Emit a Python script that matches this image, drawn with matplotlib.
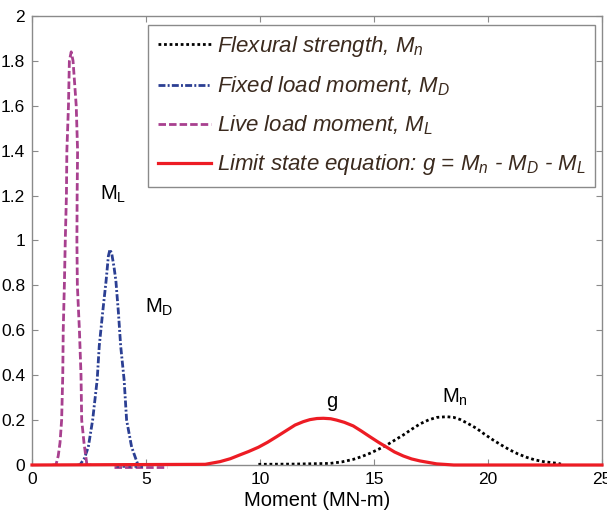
import matplotlib
matplotlib.use('Agg')
import matplotlib.pyplot as plt
from matplotlib.ticker import FormatStrFormatter

plt.rcParams['font.family'] = ['Liberation Sans', 'DejaVu Sans']
plt.rcParams['mathtext.fontset'] = 'custom'
plt.rcParams['mathtext.rm'] = 'Liberation Sans'
plt.rcParams['mathtext.it'] = 'Liberation Sans:italic'

# values (moment in MN-m, density)
mn_x = [9.93, 11.5, 13.07, 13.6, 14.09, 14.45, 14.82, 15.2, 15.56, 15.9,
        16.29, 16.65, 17.02, 17.4, 17.75, 18.19, 18.5, 18.77, 19.1, 19.5,
        19.85, 20.23, 20.6, 20.96, 21.3, 21.7, 22.05, 22.43, 23.08, 23.2]
mn_y = [0.003, 0.004, 0.007, 0.014, 0.025, 0.037, 0.052, 0.07, 0.089, 0.11,
        0.134, 0.159, 0.183, 0.201, 0.212, 0.215, 0.212, 0.203, 0.186, 0.163,
        0.137, 0.111, 0.088, 0.067, 0.05, 0.034, 0.023, 0.015, 0.007, 0.004]

md_x = [2.0, 2.1, 2.3, 2.47, 2.66, 2.86, 2.95, 3.1, 3.25, 3.35, 3.42, 3.5,
        3.6, 3.68, 3.79, 3.89, 4.04, 4.15, 4.37, 4.65, 4.9]
md_y = [0.0, 0.0, 0.03, 0.08, 0.2, 0.38, 0.53, 0.68, 0.82, 0.93, 0.96, 0.94,
        0.88, 0.82, 0.68, 0.53, 0.38, 0.2, 0.08, 0.0, 0.0]

ml_x = [0.9, 1.05, 1.15, 1.23, 1.3, 1.35, 1.37, 1.42, 1.46, 1.51, 1.53, 1.6,
        1.64, 1.72, 1.8, 1.94, 2.0, 1.98, 1.97, 1.99, 2.08, 2.15, 2.18, 2.28,
        2.41, 2.6]
ml_y = [0.0, 0.0, 0.04, 0.1, 0.2, 0.4, 0.6, 0.8, 1.0, 1.2, 1.4, 1.6,
        1.8, 1.84, 1.8, 1.6, 1.4, 1.2, 1.0, 0.8, 0.6, 0.4, 0.2, 0.1,
        0.0, 0.0]
# stray tails just under the baseline
ml_tail_x = [3.6, 5.9]
ml_tail_y = [-0.01, -0.01]
md_tail_x = [3.7, 5.0]
md_tail_y = [-0.006, -0.006]

g_x = [0, 7.6, 8.25, 8.7, 9.12, 9.5, 9.93, 10.33, 10.73, 11.15, 11.54, 11.9,
       12.19, 12.5, 12.78, 13.1, 13.36, 13.7, 14.09, 14.45, 14.82, 15.2,
       15.56, 15.9, 16.29, 16.65, 17.02, 17.75, 18.5, 25]
g_y = [0, 0.003, 0.015, 0.028, 0.045, 0.06, 0.079, 0.101, 0.126, 0.153,
       0.178, 0.193, 0.202, 0.207, 0.208, 0.206, 0.2, 0.19, 0.174, 0.151,
       0.126, 0.101, 0.079, 0.058, 0.04, 0.027, 0.018, 0.005, 0.0, 0.0]

labels = ['Flexural strength, $M_n$',
          'Fixed load moment, $M_D$',
          'Live load moment, $M_L$',
          'Limit state equation: $g$ = $M_n$ - $M_D$ - $M_L$']

fig = plt.figure(figsize=(6.07, 5.15), dpi=100)
ax = fig.add_axes([0.0527, 0.0971, 0.939, 0.872])

blue = '#2b3f93'
magenta = '#a8408f'
red = '#ed1c24'

ax.plot(ml_tail_x, ml_tail_y, color=magenta, lw=2.0, dashes=(2.7, 1.1), clip_on=False)
ax.plot(md_tail_x, md_tail_y, color=blue, lw=1.8, dashes=(1, 1.4), clip_on=False)
ax.plot(mn_x, mn_y, color='black', lw=2.0, dashes=(1, 1.0), label=labels[0])
ax.plot(md_x, md_y, color=blue, lw=2.0, dashes=(2.5, 0.8, 0.7, 0.8), label=labels[1])
ax.plot(ml_x, ml_y, color=magenta, lw=2.0, dashes=(2.7, 1.1), label=labels[2])
ax.plot(g_x, g_y, color=red, lw=2.3, label=labels[3], clip_on=False, zorder=5)

ax.set_xlim(0, 25)
ax.set_ylim(0, 2)
ax.set_xticks([0, 5, 10, 15, 20, 25])
ax.set_yticks([0, 0.2, 0.4, 0.6, 0.8, 1, 1.2, 1.4, 1.6, 1.8, 2])
ax.yaxis.set_major_formatter(FormatStrFormatter('%g'))
ax.tick_params(direction='in', top=True, right=True, labelsize=12.5,
               color='#8a8a8a', length=4, pad=5)
for s in ax.spines.values():
    s.set_color('#8a8a8a')
    s.set_linewidth(1.0)
ax.set_xlabel('Moment (MN-m)', fontsize=14.5, labelpad=3)

ax.text(2.98, 1.18, r'$\mathregular{M_L}$', fontsize=14.5)
ax.text(4.96, 0.68, r'$\mathregular{M_D}$', fontsize=14.5)
ax.text(13.15, 0.26, 'g', fontsize=14.5, ha='center')
ax.text(17.98, 0.276, r'$\mathregular{M_n}$', fontsize=14.5)

leg = ax.legend(loc='upper right', bbox_to_anchor=(0.988, 0.98), fontsize=16,
                fancybox=False, framealpha=1, edgecolor='#8a8a8a',
                handlelength=2.4, handletextpad=0.27, labelspacing=0.69,
                borderpad=0.42, borderaxespad=0)
leg.get_frame().set_linewidth(1.0)
for t in leg.get_texts():
    t.set_color('#3b2a1e')
    t.set_fontstyle('italic')

fig.savefig('out.png', dpi=100)
